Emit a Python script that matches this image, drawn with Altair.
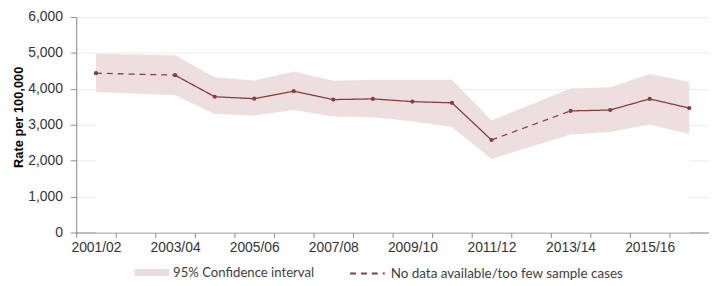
import altair as alt
import pandas as pd

years = ["2001/02", "2002/03", "2003/04", "2004/05", "2005/06", "2006/07", "2007/08", "2008/09",
         "2009/10", "2010/11", "2011/12", "2012/13", "2013/14", "2014/15", "2015/16", "2016/17"]
rate = [4435, None, 4380, 3780, 3725, 3935, 3700, 3720, 3645, 3610, 2575, None, 3385, 3410, 3720, 3465]
upper = [4980, None, 4935, 4325, 4235, 4480, 4225, 4255, 4255, 4255, 3120, None, 4010, 4045, 4410, 4190]
lower = [3910, None, 3820, 3300, 3255, 3410, 3230, 3210, 3095, 2940, 2050, None, 2730, 2800, 3010, 2740]
label_years = years[::2]
y_ticks = [0, 1000, 2000, 3000, 4000, 5000, 6000]

CI_LABEL = "95% Confidence interval"
NODATA_LABEL = "No data available/too few sample cases"
SOLID_LABEL = "Observed"

LINE_COLOR = "#8B3A40"
BAND_COLOR = "#ECDCDD"

df = pd.DataFrame({"year": years, "rate": rate, "upper": upper, "lower": lower})
df["ci"] = CI_LABEL
valid = df.dropna()

# segments between consecutive available years
seg_rows = []
idx = [i for i, v in enumerate(rate) if v is not None]
for k in range(len(idx) - 1):
    a, b = idx[k], idx[k + 1]
    style = NODATA_LABEL if b - a > 1 else SOLID_LABEL
    for j in (a, b):
        seg_rows.append({"year": years[j], "rate": rate[j], "seg": k, "style": style})
seg = pd.DataFrame(seg_rows)

label_expr = "indexof(" + str(label_years) + ", datum.value) >= 0 ? datum.label : ''"

x = alt.X(
    "year:N",
    sort=years,
    bandPosition=0.5,
    scale=alt.Scale(type="band", domain=years, paddingInner=0, paddingOuter=0),
    axis=alt.Axis(
        title=None, tickBand="extent", labelExpr=label_expr, labelAngle=0,
        labelFont="Liberation Sans", labelFontSize=14, labelColor="#333333",
        domainColor="#8C8C8C", tickColor="#8C8C8C", tickSize=5, labelPadding=3,
        grid=False,
    ),
)
yscale = alt.Scale(domain=[0, 6000], nice=False)
yaxis = alt.Axis(
    values=y_ticks, format=",.0f", title="Rate per 100,000",
    titleFont="Liberation Sans", titleFontSize=13, titleFontWeight="bold", titleColor="#000000",
    titleX=-58.5, titleY=101, titleAngle=270, titleAlign="center", titleBaseline="middle",
    labelFont="Liberation Sans", labelFontSize=14, labelColor="#333333",
    domainColor="#8C8C8C", tickColor="#8C8C8C", tickSize=6, labelPadding=8,
    gridColor="#ECECEC", gridWidth=1,
)

white = alt.Chart(valid).mark_area(color="white", opacity=1).encode(
    x=x, y=alt.Y("lower:Q", scale=yscale, axis=yaxis)
)

band = alt.Chart(valid).mark_area(opacity=0.92).encode(
    x=x,
    y=alt.Y("lower:Q", scale=yscale, axis=yaxis),
    y2="upper:Q",
    fill=alt.Fill(
        "ci:N",
        scale=alt.Scale(domain=[CI_LABEL], range=[BAND_COLOR]),
        legend=alt.Legend(
            title=None, orient="none", legendX=59, legendY=241,
            symbolType="M-1,-0.2H1V0.2H-1Z", symbolSize=1225, symbolStrokeWidth=0,
            symbolOpacity=1, labelFont="Lato", labelFontSize=13.3, labelColor="#404040",
            labelOffset=4, labelLimit=0,
        ),
    ),
)

lines = alt.Chart(seg).mark_line(color=LINE_COLOR, strokeWidth=1.3).encode(
    x=x,
    y=alt.Y("rate:Q", scale=yscale, axis=yaxis),
    detail="seg:N",
    strokeDash=alt.StrokeDash(
        "style:N",
        scale=alt.Scale(domain=[SOLID_LABEL, NODATA_LABEL], range=[[1, 0], [6, 5]]),
        legend=alt.Legend(
            title=None, orient="none", legendX=276, legendY=241, values=[NODATA_LABEL],
            symbolType="stroke", symbolSize=1225, symbolStrokeWidth=2,
            symbolStrokeColor=LINE_COLOR, symbolDash=[7, 5],
            labelFont="Lato", labelFontSize=13.6, labelColor="#404040", labelOffset=5,
            labelLimit=0,
        ),
    ),
)

points = alt.Chart(valid).mark_point(filled=True, color=LINE_COLOR, size=18, opacity=1).encode(
    x=x, y=alt.Y("rate:Q", scale=yscale, axis=yaxis)
)

chart = alt.layer(white, band, lines, points).properties(
    width=640, height=218,
    padding={"left": 69, "top": 7.5, "right": 0, "bottom": 52.5},
    autosize=alt.AutoSizeParams(type="none"),
).configure_view(stroke=None).configure(background="white")

chart.save("out.html", embed_options={"renderer": "svg", "actions": False})
